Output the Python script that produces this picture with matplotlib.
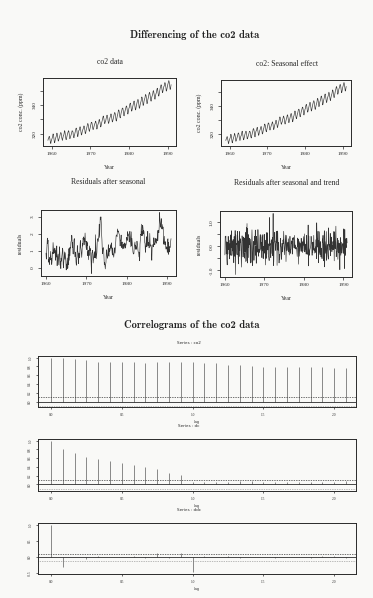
import numpy as np
import matplotlib
matplotlib.use("Agg")
import matplotlib.pyplot as plt

# Monthly co2 concentrations (ppm), Mauna Loa, one row per year
START_YEAR = 1959
FREQ = 12
co2_rows = [
    [315.42, 316.31, 316.50, 317.56, 318.13, 318.00, 316.39, 314.65, 313.68, 313.18, 314.66, 315.43],
    [316.27, 316.81, 317.42, 318.87, 319.87, 319.43, 318.01, 315.74, 314.00, 313.68, 314.84, 316.03],
    [316.73, 317.54, 318.38, 319.31, 320.42, 319.61, 318.42, 316.63, 314.83, 315.16, 315.94, 316.85],
    [317.78, 318.40, 319.53, 320.42, 320.85, 320.45, 319.45, 317.25, 316.11, 315.27, 316.53, 317.53],
    [318.58, 318.92, 319.70, 321.22, 322.08, 321.31, 319.58, 317.61, 316.05, 315.83, 316.91, 318.20],
    [319.41, 320.07, 320.74, 321.40, 322.06, 321.73, 320.27, 318.54, 316.54, 316.71, 317.53, 318.55],
    [319.27, 320.28, 320.73, 321.97, 322.00, 321.71, 321.05, 318.71, 317.66, 317.14, 318.70, 319.25],
    [320.46, 321.43, 322.23, 323.54, 323.91, 323.59, 322.24, 320.20, 318.48, 317.94, 319.63, 320.87],
    [322.17, 322.34, 322.88, 324.25, 324.83, 323.93, 322.38, 320.76, 319.10, 319.24, 320.56, 321.80],
    [322.40, 322.99, 323.73, 324.86, 325.40, 325.20, 323.98, 321.95, 320.18, 320.09, 321.16, 322.74],
    [323.83, 324.26, 325.47, 326.50, 327.21, 326.54, 325.72, 323.50, 322.22, 321.62, 322.69, 323.95],
    [324.89, 325.82, 326.77, 327.97, 327.91, 327.50, 326.18, 324.53, 322.93, 322.90, 323.85, 324.96],
    [326.01, 326.51, 327.01, 327.62, 328.76, 328.40, 327.20, 325.27, 323.20, 323.40, 324.63, 325.85],
    [326.60, 327.47, 327.58, 329.56, 329.90, 328.92, 327.88, 326.16, 324.68, 325.04, 326.34, 327.39],
    [328.37, 329.40, 330.14, 331.33, 332.31, 331.90, 330.70, 329.15, 327.35, 327.02, 327.99, 328.48],
    [329.18, 330.55, 331.32, 332.48, 332.92, 332.08, 331.01, 329.23, 327.27, 327.21, 328.29, 329.41],
    [330.23, 331.25, 331.87, 333.14, 333.80, 333.43, 331.73, 329.90, 328.40, 328.17, 329.32, 330.59],
    [331.58, 332.39, 333.33, 334.41, 334.71, 334.17, 332.89, 330.77, 329.14, 328.78, 330.14, 331.52],
    [332.75, 333.24, 334.53, 335.90, 336.57, 336.10, 334.76, 332.59, 331.42, 330.98, 332.24, 333.68],
    [334.80, 335.22, 336.47, 337.59, 337.84, 337.72, 336.37, 334.51, 332.60, 332.38, 333.75, 334.78],
    [336.05, 336.59, 337.79, 338.71, 339.30, 339.12, 337.56, 335.92, 333.75, 333.70, 335.12, 336.56],
    [337.84, 338.19, 339.91, 340.60, 341.29, 341.00, 339.39, 337.43, 335.72, 335.84, 336.93, 338.04],
    [339.06, 340.30, 341.21, 342.33, 342.74, 342.08, 340.32, 338.26, 336.52, 336.68, 338.19, 339.44],
    [340.57, 341.44, 342.53, 343.39, 343.96, 343.18, 341.88, 339.65, 337.81, 337.69, 339.09, 340.32],
    [341.20, 342.35, 342.93, 344.77, 345.58, 345.14, 343.81, 342.21, 339.69, 339.82, 340.98, 342.82],
    [343.52, 344.33, 345.11, 346.88, 347.25, 346.62, 345.22, 343.11, 340.90, 341.18, 342.80, 344.04],
    [344.79, 345.82, 347.25, 348.17, 348.74, 348.07, 346.38, 344.51, 342.92, 342.62, 344.06, 345.38],
    [346.11, 346.78, 347.68, 349.37, 350.03, 349.37, 347.76, 345.73, 344.68, 343.99, 345.48, 346.72],
    [347.84, 348.29, 349.23, 350.80, 351.66, 351.07, 349.33, 347.92, 346.27, 346.18, 347.64, 348.78],
    [350.25, 351.54, 352.05, 353.41, 354.04, 353.62, 352.22, 350.27, 348.55, 348.72, 349.91, 351.18],
    [352.60, 352.92, 353.53, 355.26, 355.52, 354.97, 353.75, 351.52, 349.64, 349.83, 351.14, 352.37],
    [353.50, 354.55, 355.23, 356.04, 357.00, 356.07, 354.67, 352.76, 350.82, 351.04, 352.69, 354.07],
]

# Sample autocorrelations, lags 0..25 months
acf_co2 = [1.00, 0.985, 0.96, 0.94, 0.91, 0.90, 0.89, 0.89, 0.88, 0.89, 0.89, 0.89, 0.89,
           0.88, 0.87, 0.83, 0.83, 0.80, 0.79, 0.78, 0.79, 0.78, 0.78, 0.78, 0.77, 0.76]
acf_dc = [1.00, 0.81, 0.73, 0.62, 0.58, 0.53, 0.50, 0.44, 0.39, 0.36, 0.27, 0.21, 0.06,
          0.06, 0.06, 0.05, 0.08, 0.08, 0.06, 0.05, 0.05, 0.06, 0.05, 0.05, 0.06, 0.09]
acf_ddc = [1.00, -0.31, 0.02, -0.05, 0.03, 0.02, 0.01, 0.03, -0.03, 0.12, -0.02, 0.14, -0.46,
           0.05, 0.02, 0.03, -0.02, 0.01, 0.02, -0.03, 0.01, 0.02, -0.01, 0.03, 0.04, -0.02]

year_ticks = [1960, 1970, 1980, 1990]
acf_xticks = [0.0, 0.5, 1.0, 1.5, 2.0]

co2 = np.array(co2_rows).ravel()
t = START_YEAR + np.arange(co2.size) / FREQ
# seasonal difference, then first difference of that
dc = co2[FREQ:] - co2[:-FREQ]
t_dc = t[FREQ:]
ddc = np.diff(dc)
t_ddc = t_dc[1:]

PAPER = "#f9f9f7"
INK = "#2a2a2a"
SERIF = ["Liberation Serif", "DejaVu Serif"]
HEAD = ["cmb10", "DejaVu Serif"]

W, H = 373, 598
fig = plt.figure(figsize=(W / 100, H / 100), dpi=100, facecolor=PAPER)


def panel(x0, y0, x1, y1):
    ax = fig.add_axes([x0 / W, 1 - y1 / H, (x1 - x0) / W, (y1 - y0) / H])
    ax.set_facecolor(PAPER)
    for s in ax.spines.values():
        s.set_color(INK)
        s.set_linewidth(0.7)
    ax.tick_params(colors=INK, length=2, width=0.5, labelsize=3.8, pad=2.5)
    for lab in ax.get_xticklabels() + ax.get_yticklabels():
        lab.set_family(SERIF)
    return ax


def rlim(lo, hi):
    pad = 0.04 * (hi - lo)
    return lo - pad, hi + pad


def fig_text(x, y, s, **kw):
    fig.text(x / W, 1 - y / H, s, ha="center", va="center", **kw)


def series_panel(rect, x, y, yticks, ylabels, ylab, title, tx):
    ax = panel(*rect)
    ax.plot(x, y, color="#333333", lw=0.45)
    ax.set_xlim(*rlim(x.min(), x.max()))
    ax.set_ylim(*rlim(y.min(), y.max()))
    ax.set_xticks(year_ticks)
    ax.set_xticklabels([str(v) for v in year_ticks], family=SERIF)
    ax.set_yticks(yticks)
    ax.set_yticklabels(ylabels, family=SERIF, rotation=90, va="center")
    ax.set_xlabel("Year", family=SERIF, fontsize=4.2, labelpad=6, color=INK)
    ax.set_ylabel(ylab, family=SERIF, fontsize=4.2, labelpad=6, color=INK)
    fig_text(tx, rect[1] - 16 if rect[1] < 150 else rect[1] - 28, title,
             family=SERIF, fontsize=5.6, color=INK)
    return ax


fig_text(195, 35, "Differencing of the co2 data", family=HEAD, fontsize=7.6, color="#222222")

series_panel((43, 78, 176, 146), t, co2, [320, 330, 340, 350], ["320", "", "340", ""],
             "co2 conc. (ppm)", "co2 data", 110)
series_panel((221, 80, 351, 146), t, co2, [320, 330, 340, 350], ["320", "", "340", ""],
             "co2 conc. (ppm)", "co2: Seasonal effect", 287)
series_panel((41, 210, 176, 276), t_dc, dc, [0, 1, 2, 3], ["0", "1", "2", "3"],
             "residuals", "Residuals after seasonal", 108)
series_panel((220, 211, 352, 277), t_ddc, ddc, [-1.0, -0.5, 0.0, 0.5, 1.0],
             ["-1.0", "", "0.0", "", "1.0"], "residuals", "Residuals after seasonal and trend", 287)

fig_text(192, 325, "Correlograms of the co2 data", family=HEAD, fontsize=7.6, color="#222222")


def acf_panel(rect, acf, n, ylim, yticks, name):
    ax = panel(*rect)
    lags = np.arange(len(acf)) / FREQ
    ax.vlines(lags, 0, acf, color="#6a6a6a", lw=0.55)
    ax.axhline(0, color=INK, lw=0.6)
    ci = 2 / np.sqrt(n)
    ax.axhline(ci, color="#3a3a3a", lw=0.5, ls=(0, (2, 1.5)))
    ax.axhline(-ci, color="#7a7a7a", lw=0.5, ls=(0, (1, 1.5)))
    ax.set_xlim(-0.092, 2.154)
    ax.set_ylim(*ylim)
    ax.set_xticks(acf_xticks)
    ax.set_xticklabels([f"{v:.1f}" for v in acf_xticks])
    ax.set_yticks(yticks)
    ax.set_yticklabels([f"{v:.1f}" for v in yticks], rotation=90, va="center")
    ax.tick_params(labelsize=2.6, length=1.6, pad=2.5)
    ax.set_xlabel("Lag", fontsize=2.3, labelpad=2.5, color=INK)
    fig_text(189, rect[1] - 13, "Series : " + name, fontsize=3.0, color=INK)
    return ax


acf_panel((38, 356, 356, 407), acf_co2, co2.size, (-0.12, 1.036),
          [0.0, 0.2, 0.4, 0.6, 0.8, 1.0], "co2")
acf_panel((38, 439, 356, 491), acf_dc, dc.size, (-0.15, 1.04),
          [0.0, 0.2, 0.4, 0.6, 0.8, 1.0], "dc")
acf_panel((38, 523, 356, 574), acf_ddc, ddc.size, (-0.52, 1.06),
          [-0.5, 0.0, 0.5, 1.0], "ddc")

fig.savefig("out.png", dpi=100, facecolor=PAPER)
